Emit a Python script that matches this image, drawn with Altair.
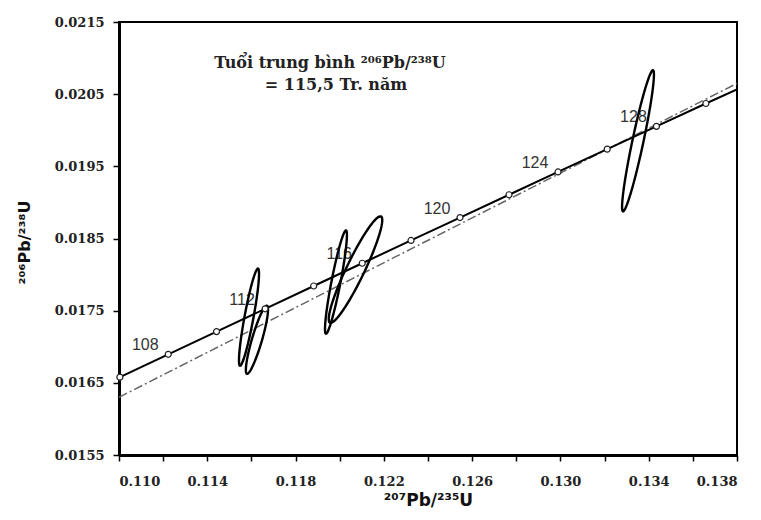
import altair as alt
import numpy as np
import pandas as pd

# Concordia marks (age in Ma, 207Pb/235U, 206Pb/238U)
ages = [106, 108, 110, 112, 114, 116, 118, 120, 122, 124, 126, 128, 130]
conc_x = [0.11004, 0.11223, 0.11442, 0.11662, 0.11882, 0.12102, 0.12323,
          0.12545, 0.12767, 0.12989, 0.13212, 0.13435, 0.13659]
conc_y = [0.016579, 0.016895, 0.017210, 0.017526, 0.017842, 0.018157, 0.018473,
          0.018790, 0.019106, 0.019422, 0.019738, 0.020054, 0.020371]
# concordia line ends at the frame
line_x = [0.11000] + conc_x + [0.13800]
line_y = [0.016573] + conc_y + [0.020565]
label_ages = [108, 112, 116, 120, 124, 128]

# dash-dot line end points
dd_x = [0.110, 0.138]
dd_y = [0.01630, 0.02065]

# error ellipses: centre, half extents, correlation
ell_id = ["A", "B", "C", "D", "E"]
ell_cx = [0.11589, 0.11625, 0.11983, 0.120715, 0.133515]
ell_cy = [0.017410, 0.017097, 0.017896, 0.018069, 0.019854]
ell_hx = [0.000454, 0.000502, 0.000497, 0.001212, 0.000722]
ell_hy = [0.000673, 0.000472, 0.000716, 0.000738, 0.000978]
ell_rho = [0.890, 0.883, 0.908, 0.928, 0.935]

x_ticks = [round(0.110 + 0.002 * i, 3) for i in range(15)]
y_ticks = [round(0.0155 + 0.0005 * i, 4) for i in range(13)]

title_line1 = "Tuổi trung bình ²⁰⁶Pb/²³⁸U"
title_line2 = "= 115,5 Tr. năm"
x_title = "²⁰⁷Pb/²³⁵U"
y_title = "²⁰⁶Pb/²³⁸U"

# ---- build tables ----
pts = pd.DataFrame({"age": ages, "x": conc_x, "y": conc_y})
line_df = pd.DataFrame({"x": line_x, "y": line_y, "o": range(len(line_x))})
lab_df = pts[pts["age"].isin(label_ages)]
dd_df = pd.DataFrame({"x": dd_x, "y": dd_y})

rows = []
tt = np.linspace(0, 2 * np.pi, 121)
for i, e in enumerate(ell_id):
    s = np.sqrt(1 - ell_rho[i] ** 2)
    for k, t in enumerate(tt):
        rows.append({
            "id": e, "o": k,
            "x": ell_cx[i] + ell_hx[i] * np.cos(t),
            "y": ell_cy[i] + ell_hy[i] * (ell_rho[i] * np.cos(t) + s * np.sin(t)),
        })
ell_df = pd.DataFrame(rows)

xs = alt.Scale(domain=[0.110, 0.138], nice=False, zero=False)
ys = alt.Scale(domain=[0.0155, 0.0215], nice=False, zero=False)

lab_font = "DejaVu Serif"

x_axis = alt.Axis(
    values=x_ticks, title=x_title, grid=False,
    labelExpr="round(datum.value*1000) % 4 == 2 ? format(datum.value, '.3f') : ''",
    labelFont=lab_font, labelFontWeight="bold", labelFontSize=13, labelColor="#222",
    labelPadding=14, tickSize=6, tickWidth=1.5, tickColor="black",
    domainColor="black", domainWidth=3,
    titleFont="DejaVu Sans", titleFontWeight="bold", titleFontSize=17,
    titleColor="#111", titleBaseline="alphabetic", titleY=50, titleX=309,
)
y_axis = alt.Axis(
    values=y_ticks, title=y_title, grid=False,
    labelExpr="round(datum.value*10000) % 10 == 5 ? format(datum.value, '.4f') : ''",
    labelFont=lab_font, labelFontWeight="bold", labelFontSize=13, labelColor="#222",
    labelPadding=9, tickSize=6, tickWidth=1.5, tickColor="black",
    domainColor="black", domainWidth=3,
    titleFont="DejaVu Sans", titleFontWeight="bold", titleFontSize=16,
    titleColor="#111", titleBaseline="alphabetic", titleX=-90, titleY=220, titleAngle=-90,
)

dd = alt.Chart(dd_df).mark_line(
    color="#666", strokeWidth=1.5, strokeDash=[9, 3, 2, 3], clip=True
).encode(x=alt.X("x:Q", scale=xs, axis=x_axis), y=alt.Y("y:Q", scale=ys, axis=y_axis))

conc = alt.Chart(line_df).mark_line(color="black", strokeWidth=2, clip=True).encode(
    x=alt.X("x:Q", scale=xs), y=alt.Y("y:Q", scale=ys), order="o:Q")

circ = alt.Chart(pts).mark_point(
    shape="circle", filled=True, fill="white", stroke="#222", strokeWidth=1.2, size=36, opacity=1
).encode(x=alt.X("x:Q", scale=xs), y=alt.Y("y:Q", scale=ys))

ells = alt.Chart(ell_df).mark_line(color="black", strokeWidth=2.4, clip=True).encode(
    x=alt.X("x:Q", scale=xs), y=alt.Y("y:Q", scale=ys), detail="id:N", order="o:Q")

labels = alt.Chart(lab_df).mark_text(
    font="Liberation Sans", fontSize=16, color="#333", dx=-23, dy=-9
).encode(x=alt.X("x:Q", scale=xs), y=alt.Y("y:Q", scale=ys), text="age:N")

t1 = alt.Chart(pd.DataFrame({"t": [title_line1]})).mark_text(
    font=lab_font, fontWeight="bold", fontSize=16, color="#222", align="center", baseline="alphabetic"
).encode(x=alt.value(211), y=alt.value(46), text="t:N")
t2 = alt.Chart(pd.DataFrame({"t": [title_line2]})).mark_text(
    font=lab_font, fontWeight="bold", fontSize=16, color="#222", align="center", baseline="alphabetic"
).encode(x=alt.value(217), y=alt.value(68), text="t:N")

chart = alt.layer(dd, labels, conc, ells, circ, t1, t2).properties(
    width=618, height=433,
    autosize=alt.AutoSizeParams(type="none"),
    padding={"left": 111, "top": 14, "right": 16, "bottom": 57},
    background="white",
).configure_view(stroke="black", strokeWidth=2)

chart.save("out.html", embed_options={"renderer": "svg", "actions": False})
